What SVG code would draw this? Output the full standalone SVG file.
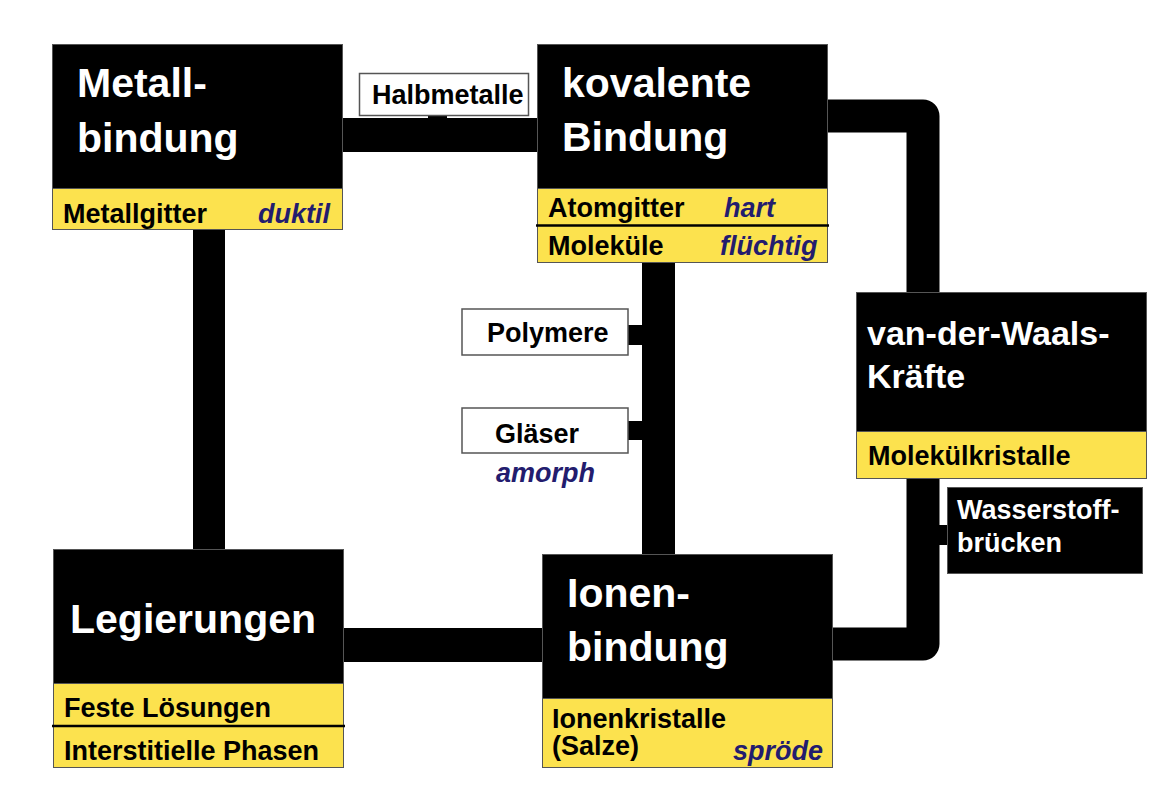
<svg xmlns="http://www.w3.org/2000/svg" width="1173" height="799" viewBox="0 0 1173 799">
<style>
.bg{fill:#ffffff}
.blk{fill:#000000;stroke:#555555;stroke-width:1}
.yel{fill:#FCE24E;stroke:#555555;stroke-width:1}
.wbox{fill:#ffffff;stroke:#555555;stroke-width:1.5}
.con{fill:none;stroke:#000000;stroke-linejoin:round}
.stub{fill:#000000}
.sep{stroke:#000000;stroke-width:2.5}
text{font-family:"Liberation Sans",Arial,sans-serif;font-weight:bold}
.big{font-size:41px;fill:#ffffff}
.mid{font-size:34px;fill:#ffffff}
.lbl{font-size:27px;fill:#000000}
.wlbl{font-size:27px;fill:#ffffff}
.it{font-size:27px;fill:#231C6E;font-style:italic}
</style>
<rect class="bg" x="0" y="0" width="1173" height="799"/>
<g id="connectors">
<path class="con" stroke-width="34" d="M342,135 H538"/>
<rect class="stub" x="428" y="115" width="19" height="5"/>
<path class="con" stroke-width="32" d="M209,230 V549"/>
<path class="con" stroke-width="33" d="M658.5,263 V554"/>
<rect class="stub" x="627" y="325" width="16" height="20"/>
<rect class="stub" x="627" y="421" width="16" height="19"/>
<path class="con" stroke-width="34" d="M344,645 H542"/>
<path class="con" stroke-width="33" d="M828,116 H923 V292"/>
<path class="con" stroke-width="33" d="M923,478 V644 H833"/>
<rect class="stub" x="938" y="525" width="10" height="20"/>
</g>
<g id="halbmetalle">
<rect class="wbox" x="359.5" y="73.5" width="169" height="42"/>
<text class="lbl" x="372" y="104">Halbmetalle</text>
</g>
<g id="metallbindung">
<rect class="blk" x="52.5" y="44.5" width="290" height="144"/>
<rect class="yel" x="52.5" y="188.5" width="290" height="41"/>
<text class="big" x="77" y="97">Metall-</text>
<text class="big" x="77" y="152">bindung</text>
<text class="lbl" x="63" y="223">Metallgitter</text>
<text class="it" x="258" y="223">duktil</text>
</g>
<g id="kovalente">
<rect class="blk" x="537.5" y="44.5" width="290" height="144"/>
<rect class="yel" x="537.5" y="188.5" width="290" height="74"/>
<line class="sep" x1="536" y1="225.5" x2="829" y2="225.5"/>
<text class="big" x="562" y="97">kovalente</text>
<text class="big" x="562" y="151">Bindung</text>
<text class="lbl" x="548" y="217">Atomgitter</text>
<text class="it" x="724" y="217">hart</text>
<text class="lbl" x="548" y="255">Moleküle</text>
<text class="it" x="720" y="255">flüchtig</text>
</g>
<g id="polymere">
<rect class="wbox" x="462" y="309" width="166" height="46"/>
<text class="lbl" x="487" y="342">Polymere</text>
</g>
<g id="glaeser">
<rect class="wbox" x="462" y="408" width="166" height="45"/>
<text class="lbl" x="495" y="443">Gläser</text>
<text class="it" x="496" y="482">amorph</text>
</g>
<g id="vanderwaals">
<rect class="blk" x="856.5" y="292.5" width="290" height="139"/>
<rect class="yel" x="856.5" y="431.5" width="290" height="47"/>
<text class="mid" x="867" y="345">van-der-Waals-</text>
<text class="mid" x="867" y="388">Kräfte</text>
<text class="lbl" x="868" y="465">Molekülkristalle</text>
</g>
<g id="wasserstoff">
<rect class="blk" x="947.5" y="487.5" width="195" height="86"/>
<text class="wlbl" x="957" y="519">Wasserstoff-</text>
<text class="wlbl" x="957" y="552">brücken</text>
</g>
<g id="legierungen">
<rect class="blk" x="53.5" y="549.5" width="290" height="134"/>
<rect class="yel" x="53.5" y="683.5" width="290" height="84"/>
<line class="sep" x1="52" y1="726" x2="345" y2="726"/>
<text class="big" x="70" y="633">Legierungen</text>
<text class="lbl" x="64" y="717">Feste Lösungen</text>
<text class="lbl" x="64" y="760">Interstitielle Phasen</text>
</g>
<g id="ionenbindung">
<rect class="blk" x="542.5" y="554.5" width="290" height="144"/>
<rect class="yel" x="542.5" y="698.5" width="290" height="69"/>
<text class="big" x="567" y="607">Ionen-</text>
<text class="big" x="567" y="661">bindung</text>
<text class="lbl" x="552" y="728">Ionenkristalle</text>
<text class="lbl" x="552" y="755">(Salze)</text>
<text class="it" x="733" y="760">spröde</text>
</g>
</svg>
